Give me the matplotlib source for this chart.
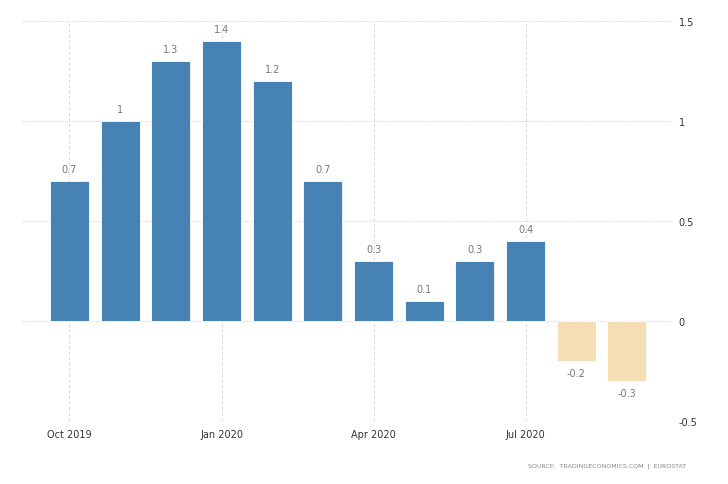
import matplotlib
matplotlib.use("Agg")
import matplotlib.pyplot as plt

months = ["Oct 2019", "Nov 2019", "Dec 2019", "Jan 2020", "Feb 2020", "Mar 2020",
          "Apr 2020", "May 2020", "Jun 2020", "Jul 2020", "Aug 2020", "Sep 2020"]
values = [0.7, 1.0, 1.3, 1.4, 1.2, 0.7, 0.3, 0.1, 0.3, 0.4, -0.2, -0.3]
labels = ["0.7", "1", "1.3", "1.4", "1.2", "0.7", "0.3", "0.1", "0.3", "0.4", "-0.2", "-0.3"]
tick_idx = [0, 3, 6, 9]
tick_labels = ["Oct 2019", "Jan 2020", "Apr 2020", "Jul 2020"]
y_ticks = [-0.5, 0, 0.5, 1, 1.5]
y_tick_labels = ["-0.5", "0", "0.5", "1", "1.5"]

plt.rcParams['font.family'] = ['DejaVu Sans']

W, H = 728, 485
fig = plt.figure(figsize=(W / 100, H / 100), dpi=100)
ax = fig.add_axes([22 / W, 63 / H, (673 - 22) / W, 400 / H])

x = list(range(len(values)))
colors = ["#4682B4" if v >= 0 else "#F5DEB3" for v in values]
ax.bar(x, values, width=0.77, color=colors, edgecolor="white", linewidth=0.6, zorder=3)

for xi, v, lab in zip(x, values, labels):
    if v >= 0:
        ax.annotate(lab, (xi, v), xytext=(0, 5), textcoords="offset points",
                    ha="center", va="bottom", fontsize=7, color="#777777")
    else:
        ax.annotate(lab, (xi, v), xytext=(0, -5), textcoords="offset points",
                    ha="center", va="top", fontsize=7, color="#777777")

ax.set_xlim(-0.937, 11.908)
ax.set_ylim(-0.5, 1.5)
ax.set_xticks(tick_idx)
ax.set_xticklabels(tick_labels, fontsize=7, color="#333333")
ax.set_yticks(y_ticks)
ax.set_yticklabels(y_tick_labels, fontsize=7, color="#333333")
ax.yaxis.tick_right()
ax.tick_params(axis="both", length=0)
ax.tick_params(axis="x", pad=6)
ax.tick_params(axis="y", pad=4)

ax.grid(axis="y", color="#d8d8d8", linestyle=(0, (1, 1)), linewidth=0.8, zorder=0)
ax.grid(axis="x", color="#dddddd", linestyle=(0, (3, 2)), linewidth=0.8, zorder=0)
for s in ax.spines.values():
    s.set_visible(False)

fig.text(686 / W, 1 - 466 / H, "SOURCE:  TRADINGECONOMICS.COM  |  EUROSTAT",
         ha="right", va="center", fontsize=4.5, color="#888888")

fig.savefig("out.png", dpi=100)
